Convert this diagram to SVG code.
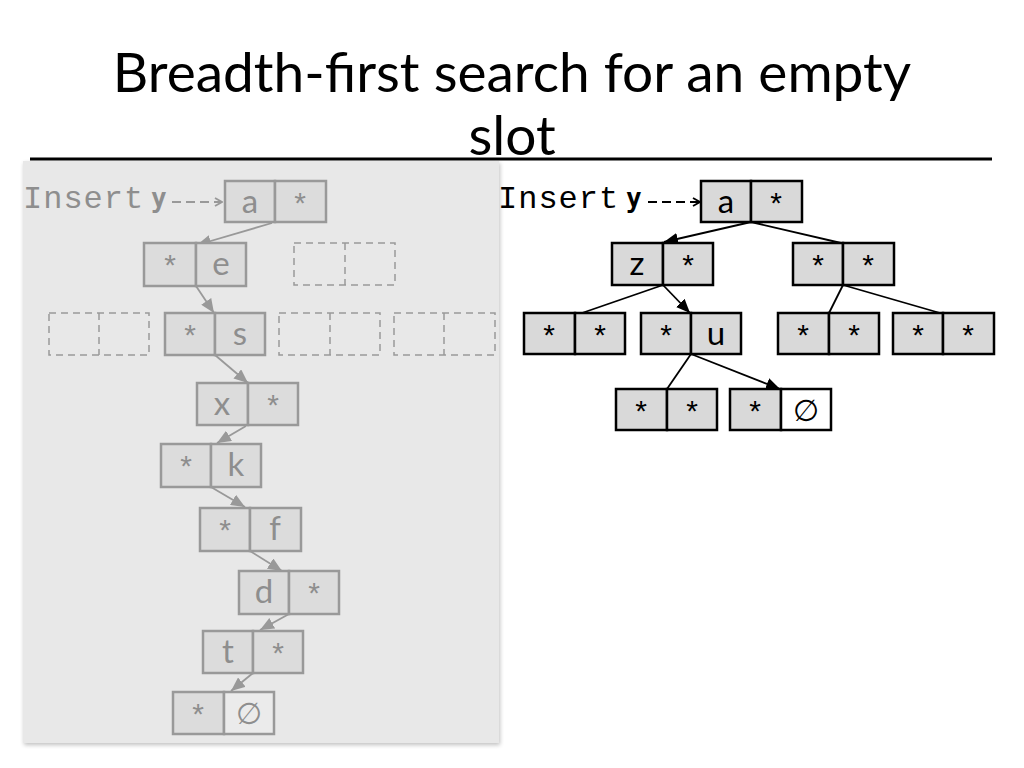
<svg xmlns="http://www.w3.org/2000/svg" width="1024" height="768" viewBox="0 0 1024 768">
<defs>
<marker id="ab" viewBox="0 0 14 12" refX="14" refY="6" markerWidth="14" markerHeight="12" markerUnits="userSpaceOnUse" orient="auto"><path d="M0,0 L14,6 L0,12 Z" fill="#000"/></marker>
<marker id="ag" viewBox="0 0 14 12" refX="14" refY="6" markerWidth="14" markerHeight="12" markerUnits="userSpaceOnUse" orient="auto"><path d="M0,0 L14,6 L0,12 Z" fill="#999"/></marker>
<marker id="ob" viewBox="0 0 10 10" refX="9" refY="5" markerWidth="10" markerHeight="10" markerUnits="userSpaceOnUse" orient="auto"><path d="M2,1 L9,5 L2,9" fill="none" stroke="#000" stroke-width="1.8"/></marker>
<marker id="og" viewBox="0 0 10 10" refX="9" refY="5" markerWidth="10" markerHeight="10" markerUnits="userSpaceOnUse" orient="auto"><path d="M2,1 L9,5 L2,9" fill="none" stroke="#999" stroke-width="1.8"/></marker>
<filter id="sh" x="-5%" y="-5%" width="110%" height="110%"><feGaussianBlur in="SourceAlpha" stdDeviation="2"/><feOffset dx="1" dy="2"/><feComponentTransfer><feFuncA type="linear" slope="0.25"/></feComponentTransfer><feMerge><feMergeNode/><feMergeNode in="SourceGraphic"/></feMerge></filter>
</defs>
<style>
.title{font-family:Lato,"Open Sans",sans-serif;font-size:55px;fill:#000;text-anchor:middle}
.c{fill:#d9d9d9;stroke:#000;stroke-width:2.5}
.w{fill:#fff;stroke:#000;stroke-width:2.5}
.t{font-family:Lato,"Liberation Sans",sans-serif;font-size:33px;fill:#000;text-anchor:middle}
.s{font-family:"Liberation Sans",sans-serif;font-size:30px;fill:#000;text-anchor:middle}
.e{font-family:"DejaVu Sans",sans-serif;font-size:30px;fill:#000;text-anchor:middle}
.gc{fill:#dcdcdc;stroke:#999;stroke-width:2.5}
.gw{fill:#ebebeb;stroke:#999;stroke-width:2.5}
.gt{font-family:Lato,"Liberation Sans",sans-serif;font-size:33px;fill:#8e8e8e;text-anchor:middle}
.gs{font-family:"Liberation Sans",sans-serif;font-size:30px;fill:#8e8e8e;text-anchor:middle}
.ge{font-family:"DejaVu Sans",sans-serif;font-size:30px;fill:#8e8e8e;text-anchor:middle}
.dash{fill:none;stroke:#999;stroke-width:1.5;stroke-dasharray:7,5}
.ins{font-family:"Liberation Mono",monospace;font-size:32px;letter-spacing:1px}
.y{font-family:"DejaVu Sans Mono",monospace;font-size:26px;font-weight:bold}
.cb{stroke:#000;stroke-width:1.8;fill:none}
.cg{stroke:#999;stroke-width:1.8;fill:none}
</style>
<rect width="1024" height="768" fill="#fff"/>
<g id="title">
<text class="title" x="512" y="92">Breadth-first search for an empty</text>
<text class="title" x="512" y="155">slot</text>
<line x1="30" y1="159" x2="992" y2="159" stroke="#000" stroke-width="3"/>
</g>
<rect id="panel" x="23" y="161" width="476" height="582" fill="#e8e8e8" filter="url(#sh)"/>

<g id="connectors">
<line class="cg" x1="272" y1="223" x2="197" y2="245" marker-end="url(#ag)"/>
<line class="cg" x1="196" y1="286" x2="214" y2="313" marker-end="url(#ag)"/>
<line class="cg" x1="215" y1="355" x2="248" y2="383" marker-end="url(#ag)"/>
<line class="cg" x1="246" y1="426" x2="217" y2="443" marker-end="url(#ag)"/>
<line class="cg" x1="211" y1="487" x2="245" y2="507" marker-end="url(#ag)"/>
<line class="cg" x1="250" y1="551" x2="282" y2="571" marker-end="url(#ag)"/>
<line class="cg" x1="289" y1="614" x2="260" y2="630" marker-end="url(#ag)"/>
<line class="cg" x1="253" y1="673" x2="231" y2="691" marker-end="url(#ag)"/>
<line x1="172" y1="202" x2="222" y2="202" stroke="#999" stroke-width="1.8" stroke-dasharray="9,5" marker-end="url(#og)"/>

<line x1="648" y1="202" x2="700" y2="202" stroke="#000" stroke-width="1.8" stroke-dasharray="9,5" marker-end="url(#ob)"/>
<line class="cb" x1="751" y1="222" x2="664" y2="242" marker-end="url(#ab)"/>
<line class="cb" x1="751" y1="222" x2="841" y2="243"/>
<line class="cb" x1="663" y1="285" x2="582" y2="313"/>
<line class="cb" x1="663" y1="285" x2="690" y2="313" marker-end="url(#ab)"/>
<line class="cb" x1="843" y1="285" x2="829" y2="313"/>
<line class="cb" x1="843" y1="285" x2="940" y2="313"/>
<line class="cb" x1="691" y1="354" x2="667" y2="389"/>
<line class="cb" x1="691" y1="354" x2="780" y2="389" marker-end="url(#ab)"/>
</g>

<g id="insert-left">
<text class="ins" x="23" y="208" fill="#8e8e8e">Insert</text>
<text class="y" x="151" y="207" fill="#8e8e8e">y</text>
</g>
<g id="insert-right">
<text class="ins" x="498" y="208" fill="#000">Insert</text>
<text class="y" x="626" y="207" fill="#000">y</text>
</g>

<!-- left panel nodes -->
<g id="L-a"><rect class="gc" x="225" y="181" width="50" height="41"/><rect class="gc" x="275" y="181" width="51" height="41"/><text class="gt" x="250" y="213">a</text><text class="gs" x="300" y="213">*</text></g>
<g id="L-e"><rect class="gc" x="144" y="243" width="52" height="43"/><rect class="gc" x="196" y="243" width="50" height="43"/><text class="gs" x="170" y="275">*</text><text class="gt" x="221" y="275">e</text></g>
<g id="L-empty1"><rect class="dash" x="294" y="243" width="101" height="42"/><line class="dash" x1="345" y1="243" x2="345" y2="285"/></g>
<g id="L-empty2"><rect class="dash" x="49" y="313" width="100" height="42"/><line class="dash" x1="99" y1="313" x2="99" y2="355"/></g>
<g id="L-s"><rect class="gc" x="165" y="313" width="50" height="42"/><rect class="gc" x="215" y="313" width="50" height="42"/><text class="gs" x="190" y="345">*</text><text class="gt" x="240" y="345">s</text></g>
<g id="L-empty3"><rect class="dash" x="279" y="313" width="101" height="42"/><line class="dash" x1="330" y1="313" x2="330" y2="355"/></g>
<g id="L-empty4"><rect class="dash" x="394" y="313" width="101" height="42"/><line class="dash" x1="444" y1="313" x2="444" y2="355"/></g>
<g id="L-x"><rect class="gc" x="197" y="383" width="51" height="42"/><rect class="gc" x="248" y="383" width="50" height="42"/><text class="gt" x="222" y="415">x</text><text class="gs" x="273" y="415">*</text></g>
<g id="L-k"><rect class="gc" x="161" y="444" width="50" height="43"/><rect class="gc" x="211" y="444" width="50" height="43"/><text class="gs" x="186" y="476">*</text><text class="gt" x="236" y="476">k</text></g>
<g id="L-f"><rect class="gc" x="200" y="508" width="50" height="43"/><rect class="gc" x="250" y="508" width="51" height="43"/><text class="gs" x="225" y="540">*</text><text class="gt" x="275" y="540">f</text></g>
<g id="L-d"><rect class="gc" x="239" y="571" width="50" height="43"/><rect class="gc" x="289" y="571" width="50" height="43"/><text class="gt" x="264" y="603">d</text><text class="gs" x="314" y="603">*</text></g>
<g id="L-t"><rect class="gc" x="203" y="631" width="50" height="42"/><rect class="gc" x="253" y="631" width="50" height="42"/><text class="gt" x="228" y="663">t</text><text class="gs" x="278" y="663">*</text></g>
<g id="L-null"><rect class="gc" x="173" y="692" width="51" height="42"/><rect class="gw" x="224" y="692" width="50" height="42"/><text class="gs" x="198" y="724">*</text><text class="ge" x="249" y="724">∅</text></g>

<!-- right panel nodes -->
<g id="R-a"><rect class="c" x="701" y="181" width="50" height="41"/><rect class="c" x="751" y="181" width="51" height="41"/><text class="t" x="726" y="213">a</text><text class="s" x="776" y="213">*</text></g>
<g id="R-z"><rect class="c" x="612" y="243" width="51" height="42"/><rect class="c" x="663" y="243" width="50" height="42"/><text class="t" x="637" y="275">z</text><text class="s" x="688" y="275">*</text></g>
<g id="R-r"><rect class="c" x="793" y="243" width="50" height="42"/><rect class="c" x="843" y="243" width="51" height="42"/><text class="s" x="818" y="275">*</text><text class="s" x="868" y="275">*</text></g>
<g id="R-1"><rect class="c" x="524" y="313" width="51" height="41"/><rect class="c" x="575" y="313" width="50" height="41"/><text class="s" x="549" y="345">*</text><text class="s" x="600" y="345">*</text></g>
<g id="R-u"><rect class="c" x="641" y="313" width="50" height="41"/><rect class="c" x="691" y="313" width="50" height="41"/><text class="s" x="666" y="345">*</text><text class="t" x="716" y="345">u</text></g>
<g id="R-2"><rect class="c" x="778" y="313" width="51" height="41"/><rect class="c" x="829" y="313" width="50" height="41"/><text class="s" x="803" y="345">*</text><text class="s" x="854" y="345">*</text></g>
<g id="R-3"><rect class="c" x="893" y="313" width="50" height="41"/><rect class="c" x="943" y="313" width="51" height="41"/><text class="s" x="918" y="345">*</text><text class="s" x="968" y="345">*</text></g>
<g id="R-4"><rect class="c" x="616" y="389" width="51" height="41"/><rect class="c" x="667" y="389" width="50" height="41"/><text class="s" x="641" y="421">*</text><text class="s" x="692" y="421">*</text></g>
<g id="R-null"><rect class="c" x="730" y="389" width="51" height="41"/><rect class="w" x="781" y="389" width="50" height="41"/><text class="s" x="755" y="421">*</text><text class="e" x="806" y="421">∅</text></g>
</svg>
